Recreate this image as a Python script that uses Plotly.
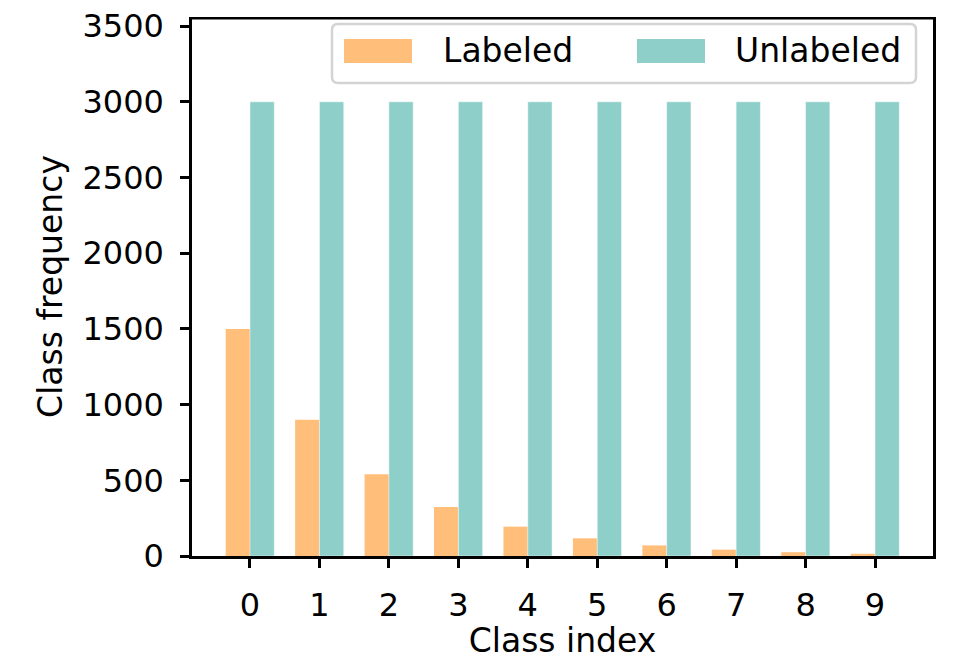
import plotly.graph_objects as go

# class-frequency data
class_index = [0, 1, 2, 3, 4, 5, 6, 7, 8, 9]
labeled = [1500, 900, 540, 324, 194, 117, 70, 42, 25, 15]
unlabeled = [3000, 3000, 3000, 3000, 3000, 3000, 3000, 3000, 3000, 3000]
y_ticks = [0, 500, 1000, 1500, 2000, 2500, 3000, 3500]
series_names = ["Labeled", "Unlabeled"]

ORANGE = "#FFBE7A"
TEAL = "#8ECFC9"
FONT = "DejaVu Sans"

# page body has an 8px margin, so the figure is 8px smaller each way
OFF = 8
W, H = 969 - OFF, 660 - OFF
L, R, T, B = 184, 36, 9, 104
PW, PH = W - L - R, H - T - B
BAR_W = 0.35


def px_x(px):
    # reference page pixel -> paper x
    return (px - OFF - L) / PW


def px_y(py):
    return (H - B - (py - OFF)) / PH


def rounded_box(x0, y0, x1, y1, r):
    # pixel coords -> paper path with rounded corners
    rx, ry = r / PW, r / PH
    a, b, c, d = px_x(x0), px_y(y1), px_x(x1), px_y(y0)
    return (f"M{a + rx},{b} L{c - rx},{b} Q{c},{b} {c},{b + ry} "
            f"L{c},{d - ry} Q{c},{d} {c - rx},{d} L{a + rx},{d} "
            f"Q{a},{d} {a},{d - ry} L{a},{b + ry} Q{a},{b} {a + rx},{b} Z")


fig = go.Figure()

fig.add_trace(go.Bar(
    x=class_index, y=labeled, name=series_names[0],
    width=BAR_W, offset=-BAR_W,
    marker=dict(color=ORANGE, line=dict(width=0)),
))
fig.add_trace(go.Bar(
    x=class_index, y=unlabeled, name=series_names[1],
    width=BAR_W, offset=0,
    marker=dict(color=TEAL, line=dict(width=0.8, color="rgba(255,255,255,0.6)")),
))

# top edge of the axes box, drawn just inside the plot area
top_y = 1 - 1.2 / PH
shapes = [
    dict(type="line", xref="paper", yref="paper", x0=-1.2 / PW, x1=1 + 1.2 / PW,
         y0=top_y, y1=top_y, line=dict(color="black", width=2.5), layer="above"),
]
# legend drawn matplotlib-style (wide swatches, rounded frame)
shapes.append(dict(type="path", xref="paper", yref="paper",
                   path=rounded_box(332, 24, 916, 83, 6),
                   fillcolor="rgba(255,255,255,0.8)",
                   line=dict(color="#d4d4d4", width=2.5), layer="above"))
annotations = []
for (sx0, tx), name, col in zip([(344, 441), (637, 733)], series_names, [ORANGE, TEAL]):
    shapes.append(dict(type="rect", xref="paper", yref="paper",
                       x0=px_x(sx0), x1=px_x(sx0 + 68), y0=px_y(63), y1=px_y(39),
                       fillcolor=col, line=dict(width=0), layer="above"))
    annotations.append(dict(xref="paper", yref="paper", x=px_x(tx), y=px_y(51),
                            xanchor="left", yanchor="middle", showarrow=False,
                            text=name, font=dict(family=FONT, size=33, color="black")))

axis_common = dict(
    showline=True, linecolor="black", linewidth=2.5,
    ticks="outside", ticklen=9, tickwidth=2.5, tickcolor="black",
    showgrid=False, zeroline=False, ticklabelstandoff=10,
    ticklabeloverflow="allow", automargin=False,
    tickfont=dict(family=FONT, size=32, color="black"),
)

fig.update_layout(
    width=W, height=H, autosize=False,
    margin=dict(l=L, r=R, t=T, b=B),
    plot_bgcolor="white", paper_bgcolor="white",
    barmode="overlay", showlegend=False,
    font=dict(family=FONT, color="black"),
    xaxis=dict(axis_common, mirror=False, range=[-0.835, 9.835], tickvals=class_index,
               title=dict(text="Class index", standoff=6,
                          font=dict(family=FONT, size=33, color="black"))),
    yaxis=dict(axis_common, mirror=True, range=[0, 3560], tickvals=y_ticks,
               title=dict(text="Class frequency", standoff=10,
                          font=dict(family=FONT, size=33, color="black"))),
    shapes=shapes, annotations=annotations,
)

fig.write_html("out.html")
